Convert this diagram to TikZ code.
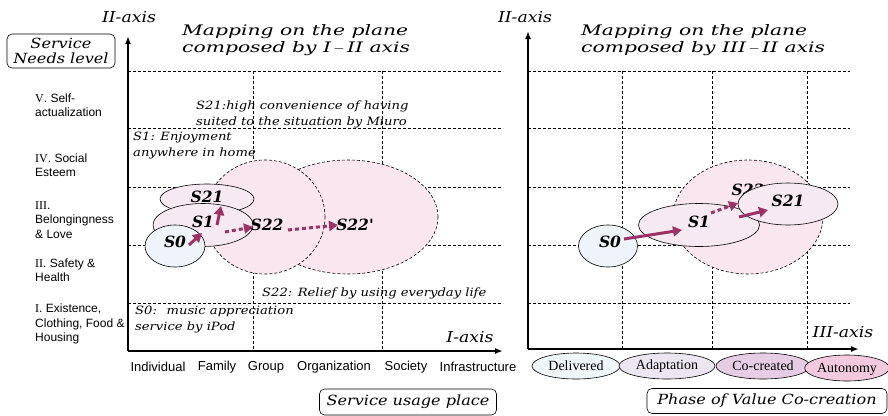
\documentclass[tikz,border=0pt]{standalone}
\usepackage{fontspec}
\setmainfont{Liberation Serif}
\setsansfont{Liberation Sans}
\newfontfamily\mapfont{DejaVu Serif}[FakeStretch=1.15]
\newfontfamily\titlefont{DejaVu Serif}[FakeStretch=1.4]
\newfontfamily\statefont{DejaVu Serif}
\usepackage{xcolor}
\definecolor{mvmaroon}{RGB}{155,51,102}
\definecolor{mvblue}{RGB}{238,244,250}
\definecolor{mvpink}{RGB}{247,233,241}
\definecolor{mvzone}{RGB}{249,230,238}
\definecolor{phdeliv}{RGB}{238,246,250}
\definecolor{phadapt}{RGB}{236,230,242}
\definecolor{phcocre}{RGB}{230,205,227}
\definecolor{phauton}{RGB}{242,201,222}
\usetikzlibrary{arrows.meta, positioning, shapes.geometric, calc}
\tikzset{
  gridline/.style={dash pattern=on 3pt off 2pt, line width=0.6pt},
  axisline/.style={line width=1.6pt, -{Latex[length=8pt,width=6pt]}},
  axislabel/.style={font=\mapfont\itshape\fontsize{15}{15}\selectfont, inner sep=0pt},
  maptitle/.style={font=\titlefont\itshape\fontsize{14.5}{17.5}\selectfont, align=left, anchor=west, inner sep=0pt},
  mapnote/.style={font=\mapfont\itshape\fontsize{11.4}{16}\selectfont, align=left, anchor=west, inner sep=0pt},
  levellabel/.style={font=\sffamily\fontsize{12}{14.5}\selectfont, align=left, anchor=west, inner sep=0pt},
  placelabel/.style={font=\sffamily\fontsize{13}{13}\selectfont, inner sep=0pt},
  framebox/.style={draw, line width=0.6pt, rounded corners=5pt, font=\mapfont\itshape\fontsize{14}{15}\selectfont, align=center},
  stateshape/.style={ellipse, draw, line width=0.6pt, inner sep=0pt},
  zoneshape/.style={ellipse, draw, fill=mvzone, dash pattern=on 3pt off 2pt, line width=0.6pt, inner sep=0pt},
  statelabel/.style={font=\statefont\bfseries\itshape\fontsize{15.5}{15.5}\selectfont, inner sep=0pt},
  phaseshape/.style={ellipse, draw, line width=0.6pt, inner sep=0pt, minimum height=26pt, font=\fontsize{14}{14}\selectfont},
  moveto/.style={mvmaroon, line width=3pt, -{Triangle[length=9pt,width=10pt]}},
  movedot/.style={moveto, dash pattern=on 4pt off 3pt},
}
\begin{document}
\begin{tikzpicture}[x=1pt,y=-1pt]
  \useasboundingbox (0,0) rectangle (888,415);
  % ---------- left plane: I-II axis ----------
  \foreach \gy in {71,128,187,245,303}
    \draw[gridline] (128,\gy) -- (503,\gy);
  \foreach \gx in {253,382}
    \draw[gridline] (\gx,71) -- (\gx,351);
  % axes
  \coordinate (lorig) at (128,351);
  \coordinate (ltop) at (128,36);
  \coordinate (lright) at (503,351);
  \draw[axisline] (lorig) -- (ltop);
  \draw[axisline] (lorig) -- (lright);
  \node[axislabel] (l2axis) at (129,17) {II-axis};
  \node[axislabel] (l1axis) at (470,337) {I-axis};
  \node[maptitle] (ltitle) at (182,40) {Mapping on the plane\\composed by I\,$-$\,II axis};
  \node[framebox, minimum width=108pt, minimum height=34pt, inner sep=0pt] (needs) at (61,51) {Service\\Needs level};
  % needs levels
  \node[levellabel] (lv5) at (35,105) {{\rmfamily V}. Self-\\actualization};
  \node[levellabel] (lv4) at (35,165) {{\rmfamily IV}. Social\\Esteem};
  \node[levellabel] (lv3) at (35,220) {{\rmfamily III}.\\Belongingness\\\& Love};
  \node[levellabel] (lv2) at (35,270) {{\rmfamily II}. Safety \&\\Health};
  \node[levellabel] (lv1) at (35,324) {{\rmfamily I}. Existence,\\Clothing, Food \&\\Housing};
  % usage places
  \node[placelabel] (pind) at (158,367) {Individual};
  \node[placelabel] (pfam) at (217,367) {Family};
  \node[placelabel] (pgrp) at (266,367) {Group};
  \node[placelabel] (porg) at (334,367) {Organization};
  \node[placelabel] (psoc) at (406,367) {Society};
  \node[placelabel] (pinf) at (478,367) {Infrastructure};
  \node[framebox, minimum width=177pt, minimum height=26pt, inner sep=0pt] (usage) at (408,402) {Service usage place};
  % service notes
  \node[mapnote] (n21) at (196,114) {S21:high convenience of having\\suited to the situation by Miuro};
  \node[mapnote] (n1) at (133,146) {S1: Enjoyment\\anywhere in home};
  \node[mapnote] (n22) at (262,293) {S22: Relief by using everyday life};
  \node[mapnote] (n0) at (135,320) {S0:~ music appreciation\\service by iPod};
  % service states
  \node[zoneshape, minimum width=180pt, minimum height=114pt] (lz22b) at (348,217) {};
  \node[zoneshape, minimum width=120pt, minimum height=114pt] (lz22) at (265,217) {};
  \node[stateshape, fill=mvpink, minimum width=94pt, minimum height=30pt] (le21) at (207,199) {};
  \node[stateshape, fill=mvpink, minimum width=100pt, minimum height=43pt] (le1) at (203,225) {};
  \node[stateshape, fill=mvblue, minimum width=60pt, minimum height=42pt] (le0) at (175,246) {};
  \node[statelabel] (ls21) at (207,197) {S21};
  \node[statelabel] (ls1) at (203,222) {S1};
  \node[statelabel] (ls0) at (175,242) {S0};
  \node[statelabel] (ls22) at (267,225) {S22};
  \node[statelabel] (ls22b) at (355,225) {S22'};
  % moves
  \coordinate (la0) at (189,245);  \coordinate (la1) at (202,233);
  \coordinate (lb0) at (217,225);  \coordinate (lb1) at (221,206);
  \coordinate (lc0) at (225,232);  \coordinate (lc1) at (253,227);
  \coordinate (ld0) at (288,230);  \coordinate (ld1) at (338,225);
  \draw[moveto] (la0) -- (la1);
  \draw[moveto] (lb0) -- (lb1);
  \draw[movedot] (lc0) -- (lc1);
  \draw[movedot] (ld0) -- (ld1);
  % ---------- right plane: III-II axis ----------
  \foreach \gy in {71,128,187,245,303}
    \draw[gridline] (528,\gy) -- (850,\gy);
  \foreach \gx in {622,712,807}
    \draw[gridline] (\gx,71) -- (\gx,349);
  \coordinate (rorig) at (528,349);
  \coordinate (rtop) at (528,31);
  \coordinate (rright) at (859,349);
  \draw[axisline] (rorig) -- (rtop);
  \draw[axisline] (rorig) -- (rright);
  \node[axislabel] (r2axis) at (525,17) {II-axis};
  \node[axislabel] (r3axis) at (843,332) {III-axis};
  \node[maptitle] (rtitle) at (581,40) {Mapping on the plane\\composed by III\,$-$\,II axis};
  % phases
  \node[phaseshape, fill=phdeliv, minimum width=88pt] (phd) at (576,366) {Delivered};
  \node[phaseshape, fill=phadapt, minimum width=96pt] (pha) at (667,366) {Adaptation};
  \node[phaseshape, fill=phcocre, minimum width=94pt] (phc) at (763,366) {Co-created};
  \node[phaseshape, fill=phauton, minimum width=84pt, text depth=-3pt] (pht) at (847,368) {Autonomy};
  \node[framebox, minimum width=240pt, minimum height=25pt, inner sep=0pt] (phase) at (767,401) {Phase of Value Co-creation};
  % service states
  \node[zoneshape, minimum width=150pt, minimum height=114pt] (rz22) at (748,217) {};
  \node[statelabel] (rs22) at (748,190) {S22};
  \node[stateshape, fill=mvpink, minimum width=121pt, minimum height=43pt] (re1) at (699,225) {};
  \node[stateshape, fill=mvpink, minimum width=100pt, minimum height=42pt] (re21) at (788,204) {};
  \node[stateshape, fill=mvblue, minimum width=59pt, minimum height=42pt] (re0) at (608,246) {};
  \node[statelabel] (rs0) at (610,242) {S0};
  \node[statelabel] (rs1) at (699,222) {S1};
  \node[statelabel] (rs21) at (788,201) {S21};
  % moves
  \coordinate (ra0) at (624,239);  \coordinate (ra1) at (682,230);
  \coordinate (rb0) at (711,213);  \coordinate (rb1) at (738,203);
  \coordinate (rc0) at (739,217);  \coordinate (rc1) at (768,210);
  \draw[moveto] (ra0) -- (ra1);
  \draw[movedot] (rb0) -- (rb1);
  \draw[moveto] (rc0) -- (rc1);
\end{tikzpicture}
\end{document}
